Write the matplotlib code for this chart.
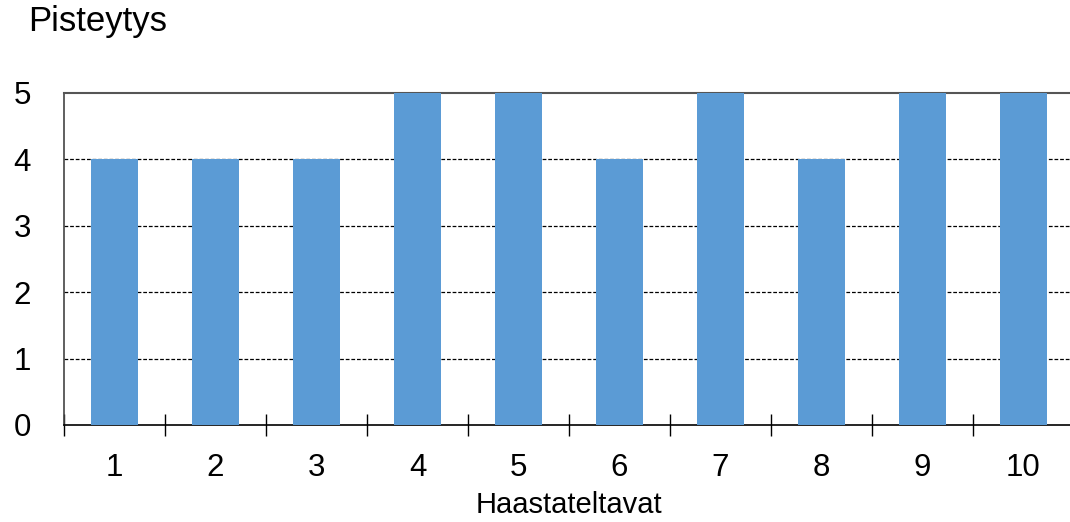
import matplotlib
matplotlib.use("Agg")
import matplotlib.pyplot as plt
from matplotlib.ticker import FixedLocator

categories = ["1", "2", "3", "4", "5", "6", "7", "8", "9", "10"]
scores = [4, 4, 4, 5, 5, 4, 5, 4, 5, 5]
y_ticks = [0, 1, 2, 3, 4, 5]

plt.rcParams["font.family"] = ["Liberation Sans", "DejaVu Sans"]

W, H = 1070, 522
fig = plt.figure(figsize=(W / 100, H / 100), dpi=100)
ax = fig.add_axes([64 / W, (H - 425) / H, 1010 / W, 332 / H])

x = list(range(len(categories)))
ax.bar(x, scores, width=0.475, color="#5B9BD5", zorder=3)

ax.set_xlim(-0.5, len(categories) - 0.5)
ax.set_ylim(0, 5)

ax.set_yticks(y_ticks)
ax.set_yticklabels([str(v) for v in y_ticks], fontsize=22.5)
ax.tick_params(axis="y", length=0, pad=24)

ax.set_xticks(x)
ax.set_xticklabels(categories, fontsize=22.5)
ax.tick_params(axis="x", which="major", length=0, pad=20)
ax.xaxis.set_minor_locator(FixedLocator([i - 0.5 for i in range(len(categories) + 1)]))
ax.tick_params(axis="x", which="minor", direction="inout", length=16, width=1, color="black")

for v in y_ticks[1:-1]:
    ax.axhline(v, color="black", lw=0.9, ls=(0, (3, 1.5)), zorder=1)

ax.spines["right"].set_visible(False)
ax.spines["top"].set_color("#555555")
ax.spines["top"].set_linewidth(1.5)
ax.spines["left"].set_color("#444444")
ax.spines["left"].set_linewidth(1.2)
ax.spines["bottom"].set_color("black")
ax.spines["bottom"].set_linewidth(1.2)

ax.set_xlabel("Haastateltavat", fontsize=21, labelpad=6)
fig.text(28 / W, 1 - 21 / H, "Pisteytys", fontsize=25, ha="left", va="center")

fig.savefig("out.png", dpi=100)
